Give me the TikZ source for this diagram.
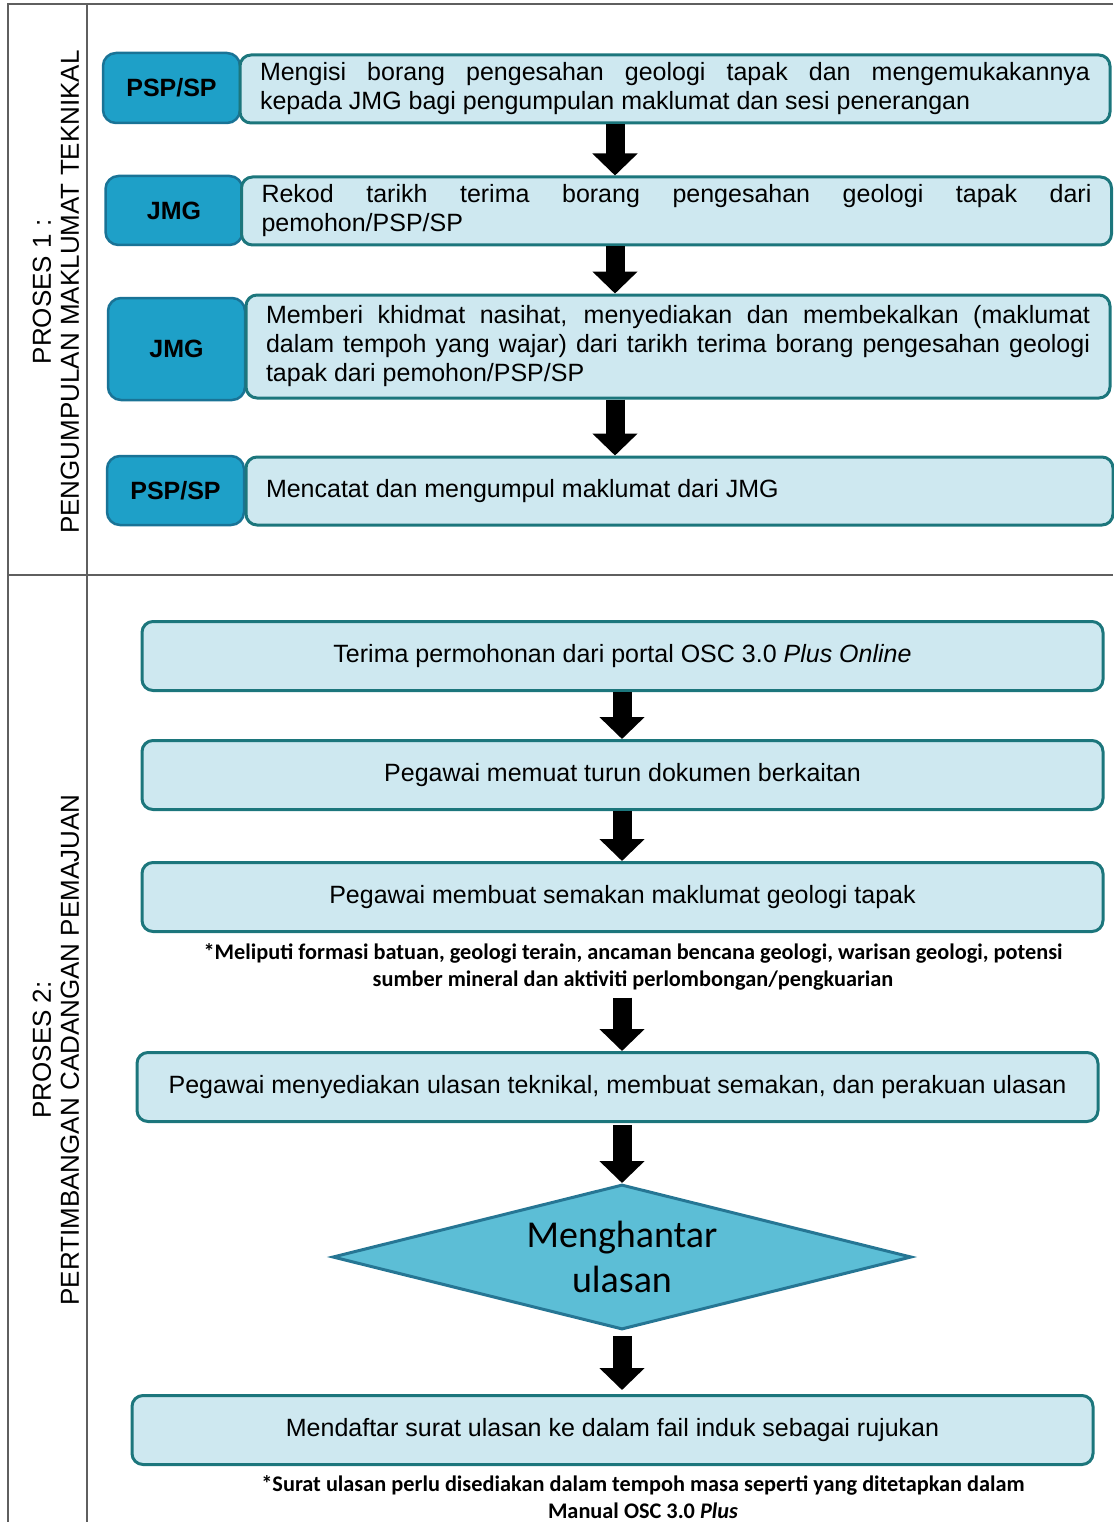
\documentclass[tikz,border=0pt]{standalone}
\usepackage{fontspec}
\setmainfont{Liberation Sans}
\newfontfamily\notefont{Carlito}
\usetikzlibrary{arrows.meta, positioning, shapes.geometric}

\definecolor{whofill}{RGB}{30,160,200}
\definecolor{whoedge}{RGB}{25,115,150}
\definecolor{taskfill}{RGB}{206,232,240}
\definecolor{taskedge}{RGB}{28,118,124}
\definecolor{decfill}{RGB}{92,190,214}
\definecolor{decedge}{RGB}{38,118,148}
\definecolor{frame}{RGB}{95,95,95}

\begin{document}
\begin{tikzpicture}[x=1pt, y=-1pt,
    who/.style={draw=whoedge, fill=whofill, line width=2.5pt, rounded corners=13pt,
      minimum width=137pt, font=\fontsize{25}{29}\selectfont\bfseries},
    task/.style={draw=taskedge, fill=taskfill, line width=3pt, rounded corners=11pt,
      inner xsep=20pt, align=justify, font=\fontsize{25}{29}\selectfont},
    stepbox/.style={draw=taskedge, fill=taskfill, line width=3pt, rounded corners=11pt,
      minimum width=961pt, minimum height=69pt, font=\fontsize{25}{29}\selectfont},
    remark/.style={align=center, font=\notefont\bfseries\fontsize{22.3}{26.5}\selectfont},
    flow/.style={line width=19pt, -{Triangle[length=22pt, width=44pt]}}]

  \useasboundingbox (0,0) rectangle (1113,1522);

  % frame of the two processes
  \draw[frame, line width=2pt] (1113,4) -- (8,4) -- (8,1522);
  \draw[frame, line width=2pt] (87,4) -- (87,1522);
  \draw[frame, line width=2pt] (8,575) -- (1113,575);

  \node[rotate=90, align=center, font=\fontsize{26}{28}\selectfont] (lane1) at (56,292)
    {PROSES 1 :\\PENGUMPULAN MAKLUMAT TEKNIKAL};
  \node[rotate=90, align=center, font=\fontsize{26}{28}\selectfont] (lane2) at (56,1050)
    {PROSES 2:\\PERTIMBANGAN CADANGAN PEMAJUAN};

  % proses 1
  \node[who, minimum height=70pt] (who1) at (171.5,88) {PSP/SP};
  \node[task, text width=830pt, minimum height=68pt] (task1) at (675,89)
    {Mengisi borang pengesahan geologi tapak dan mengemukakannya\linebreak
     kepada JMG bagi pengumpulan maklumat dan sesi penerangan};

  \node[who, minimum height=69pt] (who2) at (174,210.5) {JMG};
  \node[task, text width=830pt, minimum height=68pt] (task2) at (676.5,211)
    {Rekod tarikh terima borang pengesahan geologi tapak dari\linebreak
     pemohon/PSP/SP};

  \node[who, minimum height=102pt] (who3) at (176.5,349) {JMG};
  \node[task, text width=824pt, minimum height=103pt] (task3) at (678,346.5)
    {Memberi khidmat nasihat, menyediakan dan membekalkan (maklumat\linebreak
     dalam tempoh yang wajar) dari tarikh terima borang pengesahan geologi\linebreak
     tapak dari pemohon/PSP/SP};

  \node[who, minimum height=69pt] (who4) at (175.5,490.5) {PSP/SP};
  \node[task, text width=827pt, minimum height=68pt] (task4) at (679.5,491)
    {Mencatat dan mengumpul maklumat dari JMG};

  \coordinate (axis1) at (615,0);
  \draw[flow] (task1.south -| axis1) -- (task2.north -| axis1);
  \draw[flow] (task2.south -| axis1) -- (task3.north -| axis1);
  \draw[flow] (task3.south -| axis1) -- (task4.north -| axis1);

  % proses 2
  \node[stepbox] (terima) at (622.5,656)
    {Terima permohonan dari portal OSC 3.0 \textit{Plus Online}};
  \node[stepbox] (muat) at (622.5,775) {Pegawai memuat turun dokumen berkaitan};
  \node[stepbox] (semak) at (622.5,897) {Pegawai membuat semakan maklumat geologi tapak};
  \node[remark] (meliputi) at (633,967)
    {*Meliputi formasi batuan, geologi terain, ancaman bencana geologi, warisan geologi, potensi\\
     sumber mineral dan aktiviti perlombongan/pengkuarian};
  \node[stepbox] (ulasan) at (617.5,1087)
    {Pegawai menyediakan ulasan teknikal, membuat semakan, dan perakuan ulasan};
  \node[diamond, draw=decedge, fill=decfill, line width=3pt, inner sep=0pt,
    minimum width=579pt, minimum height=145pt] (hantar) at (622,1257) {};
  \node[align=center, font=\notefont\fontsize{38}{45}\selectfont] (hantartext)
    at (hantar.center) {Menghantar\\ulasan};
  \node[stepbox] (daftar) at (612.5,1430)
    {Mendaftar surat ulasan ke dalam fail induk sebagai rujukan};
  \node[remark] (surat) at (643,1497)
    {*Surat ulasan perlu disediakan dalam tempoh masa seperti yang ditetapkan dalam\\
     Manual OSC 3.0 \textit{Plus}};

  \coordinate (axis2) at (622,0);
  \draw[flow] (terima.south -| axis2) -- (muat.north -| axis2);
  \draw[flow] (muat.south -| axis2) -- (semak.north -| axis2);
  \draw[flow, shorten <=4pt] (meliputi.south -| axis2) -- (ulasan.north -| axis2);
  \draw[flow, shorten <=2pt] (ulasan.south -| axis2) -- (hantar.north);
  \draw[flow, shorten <=5pt, shorten >=4pt] (hantar.south) -- (daftar.north -| axis2);
\end{tikzpicture}
\end{document}
